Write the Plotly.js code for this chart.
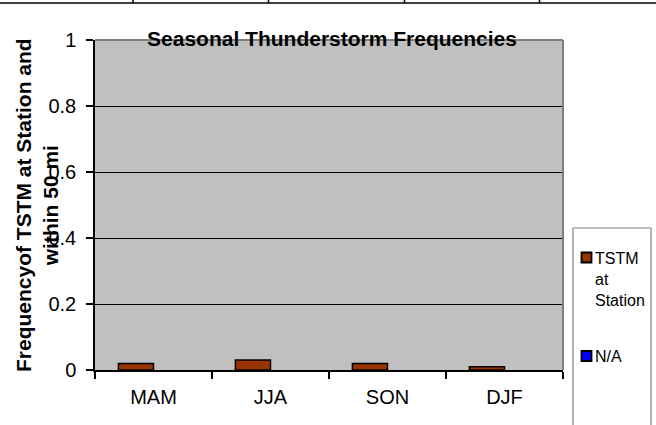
<!DOCTYPE html>
<html>
<head>
<meta charset="utf-8">
<script src="https://cdn.plot.ly/plotly-3.0.1.min.js"></script>
<style>
html,body{margin:0;padding:0;background:#fff;}
#chart{width:656px;height:425px;}
</style>
</head>
<body>
<div id="chart"></div>
<script>
// ---- data ----
var seasons = ["MAM", "JJA", "SON", "DJF"];
var tstmAtStation = [0.02, 0.03, 0.02, 0.01];
var naValues = [0, 0, 0, 0];
var seriesNames = ["TSTM at Station", "N/A"];
var legendLabels = ["TSTM<br>at<br>Station", "N/A"];
var yTickVals = [0, 0.2, 0.4, 0.6, 0.8, 1];
var yTickText = ["0", "0.2", "0.4", "0.6", "0.8", "1"];
var chartTitle = "Seasonal Thunderstorm Frequencies";
var yTitle = "Frequencyof TSTM at Station and<br>within 50 mi";

// ---- layout helpers (pixel -> paper) ----
var L = 95, R = 563, T = 40, B = 370;
function px(x) { return (x - L) / (R - L); }
function py(y) { return (B - y) / (B - T); }

var FONT = "Liberation Sans, Arial, Helvetica, sans-serif";
var brown = "#993300", blue = "#0000FF";

var traces = [
  {type: "bar", name: seriesNames[0], x: seasons, y: tstmAtStation,
   marker: {color: brown, line: {color: "#000", width: 1.5}}, hoverinfo: "x+y+name"},
  {type: "bar", name: seriesNames[1], x: seasons, y: naValues,
   marker: {color: blue, line: {color: "#000", width: 0}}, hoverinfo: "x+y+name"}
];

var shapes = [];
// plot border top and right (gray)
shapes.push({type: "line", xref: "paper", yref: "paper", x0: 0, x1: 1, y0: 1, y1: 1,
  line: {color: "#808080", width: 2}, layer: "above"});
shapes.push({type: "line", xref: "paper", yref: "paper", x0: 1, x1: 1, y0: 0, y1: 1,
  line: {color: "#808080", width: 2}, layer: "above"});
// table lines at the top of the page
shapes.push({type: "line", xref: "paper", yref: "paper", x0: px(0), x1: px(656), y0: py(3), y1: py(3),
  line: {color: "#000", width: 1.5}});
[133, 268.5, 404.5, 539.5].forEach(function (xx) {
  shapes.push({type: "line", xref: "paper", yref: "paper", x0: px(xx), x1: px(xx), y0: py(0), y1: py(3),
    line: {color: "#000", width: 1.5}});
});
// legend box
shapes.push({type: "rect", xref: "paper", yref: "paper", x0: px(573), x1: px(651), y0: py(440), y1: py(228),
  line: {color: "#808080", width: 1.2}, fillcolor: "rgba(0,0,0,0)"});
// legend swatches
shapes.push({type: "rect", xref: "paper", yref: "paper", x0: px(581.5), x1: px(591.5), y0: py(262.5), y1: py(252.5),
  line: {color: "#000", width: 1.8}, fillcolor: brown});
shapes.push({type: "rect", xref: "paper", yref: "paper", x0: px(581.5), x1: px(591.5), y0: py(361), y1: py(351),
  line: {color: "#000", width: 1.8}, fillcolor: blue});

var annotations = [
  {xref: "paper", yref: "paper", x: px(37), y: py(205), text: yTitle, textangle: -90,
   showarrow: false, xanchor: "center", yanchor: "middle", align: "center",
   font: {family: FONT, size: 21, color: "#000", weight: "bold"}},
  {xref: "paper", yref: "paper", x: px(593), y: py(279), text: legendLabels[0],
   showarrow: false, xanchor: "left", yanchor: "middle", align: "left",
   font: {family: FONT, size: 16, color: "#000"}},
  {xref: "paper", yref: "paper", x: px(593), y: py(356), text: legendLabels[1],
   showarrow: false, xanchor: "left", yanchor: "middle", align: "left",
   font: {family: FONT, size: 16, color: "#000"}}
];

var layout = {
  width: 656, height: 425,
  margin: {l: L, r: 656 - R, t: T, b: 425 - B, pad: 0},
  paper_bgcolor: "#fff", plot_bgcolor: "#C0C0C0",
  font: {family: FONT, color: "#000"},
  showlegend: false,
  barmode: "group", bargap: 0.4, bargroupgap: 0,
  title: {text: "<b>" + chartTitle + "</b>", xref: "container", x: 332 / 656, xanchor: "center",
    yref: "container", y: 1 - 38.5 / 425, yanchor: "middle",
    font: {family: FONT, size: 21, color: "#000"}},
  xaxis: {type: "category", tickson: "boundaries", ticks: "outside", ticklen: 7, tickwidth: 1.5,
    tickcolor: "#000", showline: true, linecolor: "#000", linewidth: 1.5, showgrid: false,
    tickfont: {family: FONT, size: 20, color: "#000"}, ticklabelstandoff: 8, fixedrange: true},
  yaxis: {range: [0, 1], tickvals: yTickVals, ticktext: yTickText, ticks: "outside", ticklen: 7,
    tickwidth: 1.5, tickcolor: "#000", showline: true, linecolor: "#000", linewidth: 1.5,
    showgrid: true, gridcolor: "#000", gridwidth: 1, zeroline: false,
    tickfont: {family: FONT, size: 20, color: "#000"}, ticklabelstandoff: 6, fixedrange: true},
  shapes: shapes,
  annotations: annotations
};

Plotly.newPlot("chart", traces, layout, {displayModeBar: false, staticPlot: false});
</script>
</body>
</html>
